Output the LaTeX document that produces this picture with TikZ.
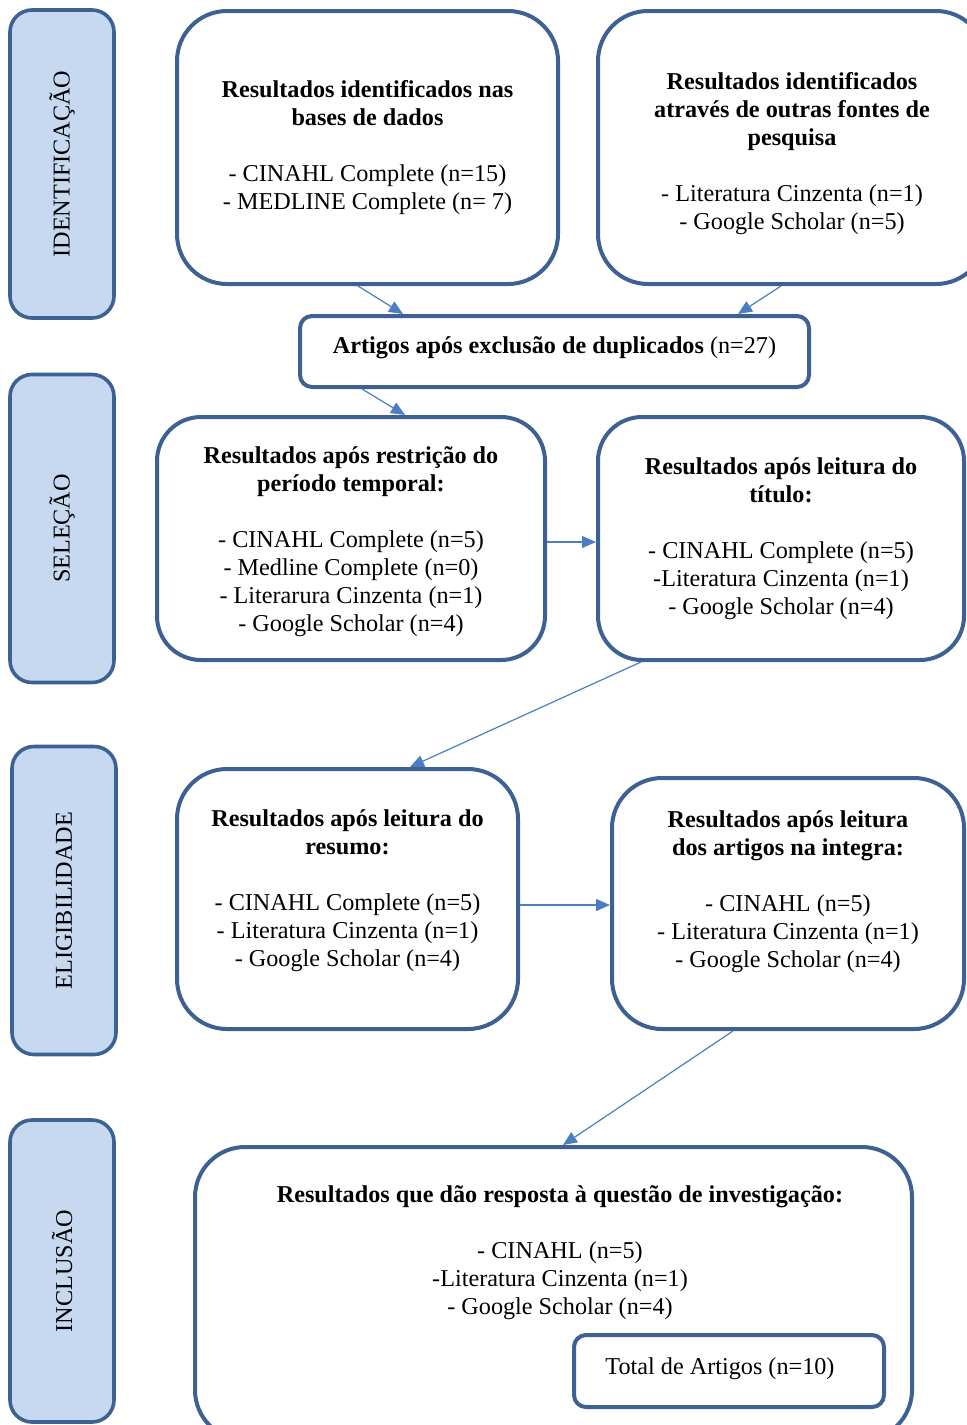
\documentclass[tikz,border=0pt]{standalone}
\usepackage{fontspec}
\setmainfont{Liberation Serif}
\usetikzlibrary{arrows.meta}
\definecolor{boxline}{RGB}{60,97,146}
\definecolor{arrowblue}{RGB}{74,126,193}
\definecolor{phasefill}{RGB}{198,217,241}
\tikzset{
  phase/.style={draw=boxline,fill=phasefill,line width=1.8pt,rounded corners=11pt,rotate=90,minimum height=52pt},
  result/.style={draw=boxline,fill=white,line width=2pt,rounded corners=25pt,align=center,inner sep=0pt},
  smallbox/.style={draw=boxline,fill=white,line width=2pt,rounded corners=6pt,align=center,inner sep=0pt},
  flow/.style={->,draw=arrowblue,line width=0.6pt}
}
\begin{document}
\begin{tikzpicture}[x=0.5pt,y=-0.5pt,>={Triangle[length=7pt,width=6pt]},font=\fontsize{12.1}{14}\selectfont]
            \useasboundingbox (0,0) rectangle (967,1425);
            \node[phase,minimum width=154pt] (fase1) at (62,164) {IDENTIFICAÇÃO};
            \node[phase,minimum width=154pt] (fase2) at (62,528.5) {SELEÇÃO};
            \node[phase,minimum width=154pt] (fase3) at (64,900.5) {ELIGIBILIDADE};
            \node[phase,minimum width=151pt] (fase4) at (62,1271) {INCLUSÃO};
            \node[result,minimum width=190.5pt,minimum height=136.5pt] (bases) at (367.5,147.5)
                {\textbf{Resultados identificados nas}\\ \textbf{bases de dados}\\[14pt]
                 - CINAHL Complete (n=15)\\ - MEDLINE Complete (n= 7)};
            \node[result,minimum width=194pt,minimum height=136.5pt] (fontes) at (792,147.5)
                {\mbox{}\\[0.4pt]\textbf{Resultados identificados}\\ \textbf{através de outras fontes de}\\ \textbf{pesquisa}\\[14pt]
                 - Literatura Cinzenta (n=1)\\ - Google Scholar (n=5)};
            \node[smallbox,minimum width=254.5pt,minimum height=35.5pt] (dup) at (554.5,351.5)
                {\textbf{Artigos após exclusão de duplicados} (n=27)\\[-7.3pt]\mbox{}};
            \node[result,rounded corners=22pt,minimum width=194pt,minimum height=121.5pt] (periodo) at (351,538.5)
                {\mbox{}\\[-2.6pt]\textbf{Resultados após restrição do}\\ \textbf{período temporal:}\\[14pt]
                 - CINAHL Complete (n=5)\\ - Medline Complete (n=0)\\ - Literarura Cinzenta (n=1)\\ - Google Scholar (n=4)};
            \node[result,rounded corners=22pt,minimum width=183pt,minimum height=121.5pt] (titulo) at (781,538.5)
                {\textbf{Resultados após leitura do}\\ \textbf{título:}\\[14pt]
                 - CINAHL Complete (n=5)\\ -Literatura Cinzenta (n=1)\\ - Google Scholar (n=4)};
            \node[result,minimum width=170.5pt,minimum height=130pt] (resumo) at (347.5,899)
                {\textbf{Resultados após leitura do}\\ \textbf{resumo:}\\[14pt]
                 - CINAHL Complete (n=5)\\ - Literatura Cinzenta (n=1)\\ - Google Scholar (n=4)\\[-3.3pt]\mbox{}};
            \node[result,minimum width=176pt,minimum height=125.5pt] (integra) at (788,903.5)
                {\textbf{Resultados após leitura}\\ \textbf{dos artigos na integra:}\\[14pt]
                 - CINAHL (n=5)\\ - Literatura Cinzenta (n=1)\\ - Google Scholar (n=4)\\[0pt]\mbox{}};
            \node[result,minimum width=358.5pt,minimum height=146.5pt] (final) at (553.5,1293.5) {};
            \node[align=center] (finaltxt) at (560,1253)
                {\textbf{Resultados que dão resposta à questão de investigação:}\\[14pt]
                 - CINAHL (n=5)\\ -Literatura Cinzenta (n=1)\\ - Google Scholar (n=4)};
            \node[smallbox,minimum width=155pt,minimum height=36pt] (total) at (729,1371) {Total de Artigos (n=10)\kern9pt\\[-8.8pt]\mbox{}};
            \draw[flow] ([xshift=-4.75pt]bases.south) -- ([xshift=-75.75pt]dup.north);
            \draw[flow] ([xshift=-5.5pt]fontes.south) -- ([xshift=91.75pt]dup.north);
            \draw[flow] ([xshift=-96.25pt]dup.south) -- ([xshift=27pt]periodo.north);
            \draw[flow] ([yshift=-1.75pt]periodo.east) -- ([yshift=-1.75pt]titulo.west);
            \draw[flow] ([xshift=-70pt]titulo.south) -- ([xshift=31.25pt]resumo.north);
            \draw[flow] ([yshift=-3pt]resumo.east) -- ([yshift=-0.75pt]integra.west);
            \draw[flow] ([xshift=-27.5pt]integra.south) -- ([xshift=4.75pt]final.north);
        \end{tikzpicture}
\end{document}
